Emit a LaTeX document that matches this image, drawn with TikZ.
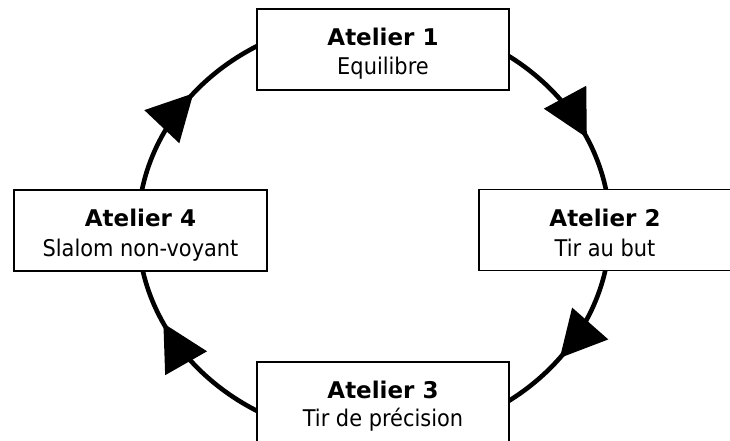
\documentclass[tikz,border=0pt]{standalone}
\usepackage{fontspec}
\setmainfont{DejaVu Sans}
\newfontfamily\subfont{DejaVu Sans}[FakeStretch=0.91]
\usetikzlibrary{arrows.meta,decorations.markings,backgrounds,calc}
\tikzset{
  box/.style={draw=black, line width=1.8pt, fill=white, minimum width=252pt,
    minimum height=81pt, inner sep=0pt, outer sep=0pt},
  ttl/.style={font=\fontsize{23}{27}\selectfont\bfseries, inner sep=0pt, anchor=base},
  sub/.style={font=\subfont\fontsize{23}{27}\selectfont, inner sep=0pt, anchor=base},
  cyc/.style={line width=4.6pt, postaction={decorate},
    decoration={markings, mark=at position #1 with {\arrow{Triangle[length=46pt,width=47pt]}}}},
}
\begin{document}
\begin{tikzpicture}[x=1pt,y=1pt]
\useasboundingbox (0,0) rectangle (730,441);
\node[box] (b1) at (383,391.5) {};
\node[box] (b2) at (605,211) {};
\node[box] (b3) at (383,38.5) {};
\node[box, minimum width=253pt] (b4) at (140.5,210.5) {};
\node[ttl] (t1) at ([yshift=-36.7pt]b1.north) {Atelier 1};
\node[sub] (s1) at ([yshift=-66pt]b1.north) {Equilibre};
\node[ttl] (t2) at ([yshift=-37.5pt]b2.north) {Atelier 2};
\node[sub] (s2) at ([yshift=-67pt]b2.north) {Tir au but};
\node[ttl] (t3) at ([yshift=-36.3pt]b3.north) {Atelier 3};
\node[sub] (s3) at ([yshift=-65pt]b3.north) {Tir de précision};
\node[ttl] (t4) at ([yshift=-36.7pt]b4.north) {Atelier 4};
\node[sub] (s4) at ([yshift=-67pt]b4.north) {Slalom non-voyant};
\begin{scope}[on background layer]
\fill[white] (0,0) rectangle (730,441);
\coordinate (c) at (374,212.5);
\draw[cyc=0.73] ($(c)+(0,210)$) arc[start angle=90,end angle=0,x radius=236pt,y radius=210pt];
\draw[cyc=0.405] ($(c)+(236,0)$) arc[start angle=0,end angle=-90,x radius=236pt,y radius=210pt];
\draw[cyc=0.717] ($(c)+(0,-210)$) arc[start angle=-90,end angle=-180,x radius=236pt,y radius=210pt];
\draw[cyc=0.427] ($(c)+(-236,0)$) arc[start angle=180,end angle=90,x radius=236pt,y radius=210pt];
\end{scope}
\end{tikzpicture}
\end{document}
